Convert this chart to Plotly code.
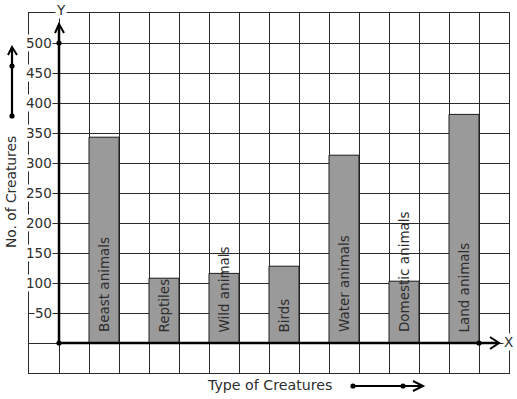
import plotly.graph_objects as go

# ---- data ----
categories = ["Beast animals", "Reptiles", "Wild animals", "Birds",
              "Water animals", "Domestic animals", "Land animals"]
values = [343, 108, 116, 128, 313, 103, 381]
y_ticks = [50, 100, 150, 200, 250, 300, 350, 400, 450, 500]
y_tick_labels = ["50", "100", "150", "200", "250", "300", "350", "400", "450", "500"]

# ---- layout geometry (pixels) ----
FIG_W, FIG_H = 517, 399
L, T, W, H = 29, 13, 480, 360


def px(x):
    return (x - L) / W


def py(y):
    return (T + H - y) / H


FONT = "DejaVu Sans"
TXT = "#2e2e2e"

bar_x = [1.5 + 2 * i for i in range(len(categories))]

fig = go.Figure()
fig.add_trace(go.Bar(
    x=bar_x, y=values, width=1,
    marker=dict(color="#9a9a9a", line=dict(color="#1a1a1a", width=1)),
    hoverinfo="skip", showlegend=False,
))

shapes = []


def seg(x0, y0, x1, y1, w=2.5, c="black"):
    shapes.append(dict(type="line", xref="paper", yref="paper",
                       x0=px(x0), y0=py(y0), x1=px(x1), y1=py(y1),
                       line=dict(color=c, width=w), layer="above"))


def path(pts, w=2):
    d = "M " + " L ".join(f"{px(a)},{py(b)}" for a, b in pts)
    shapes.append(dict(type="path", xref="paper", yref="paper", path=d,
                       line=dict(color="black", width=w), layer="above"))


def dot(x, y, r=2.6):
    shapes.append(dict(type="circle", xref="paper", yref="paper",
                       x0=px(x - r), x1=px(x + r), y0=py(y + r), y1=py(y - r),
                       fillcolor="black", line=dict(color="black", width=0),
                       layer="above"))


# Y axis with arrow
seg(59, 343, 59, 25)
path([(55, 33), (59, 24), (64, 33)])
dot(59, 43)
dot(59, 343)
# X axis with arrow
seg(59, 343, 498, 343)
path([(490, 337), (499, 343), (490, 349)])
dot(479, 343)
# left side arrow
seg(12, 116, 12, 48, w=2.2)
path([(8, 55), (12, 47), (17, 55)])
dot(12, 116)
dot(12, 66)
# bottom arrow
seg(353, 386, 422, 386, w=2.2)
path([(413, 381), (423, 386), (413, 391)])
dot(353, 386)
dot(403, 386)

annotations = []
# y tick labels with white background
for v, t in zip(y_ticks, y_tick_labels):
    annotations.append(dict(
        x=px(53), y=v, xref="paper", yref="y", text=t, showarrow=False,
        xanchor="right", yanchor="middle", bgcolor="white", borderpad=0,
        font=dict(family=FONT, size=13.5, color=TXT)))
# bar labels
for xc, c in zip(bar_x, categories):
    annotations.append(dict(
        x=xc, y=14, xref="x", yref="y", text=c, showarrow=False,
        textangle=-90, xanchor="center", yanchor="bottom",
        font=dict(family=FONT, size=13.5, color=TXT)))
# axis letters
annotations.append(dict(x=px(61), y=py(10), xref="paper", yref="paper", text="Y",
                        showarrow=False, bgcolor="white", borderpad=0,
                        xanchor="center", yanchor="middle",
                        font=dict(family=FONT, size=13.5, color=TXT)))
annotations.append(dict(x=px(508), y=py(342), xref="paper", yref="paper", text="X",
                        showarrow=False, bgcolor="white", borderpad=0,
                        xanchor="center", yanchor="middle",
                        font=dict(family=FONT, size=13.5, color=TXT)))
# axis titles
annotations.append(dict(x=px(11), y=py(192), xref="paper", yref="paper",
                        text="No. of Creatures", showarrow=False, textangle=-90,
                        xanchor="center", yanchor="middle",
                        font=dict(family=FONT, size=13.8, color=TXT)))
annotations.append(dict(x=px(269), y=py(385), xref="paper", yref="paper",
                        text="Type of Creatures", showarrow=False,
                        xanchor="center", yanchor="middle",
                        font=dict(family=FONT, size=14.2, color=TXT)))

fig.update_layout(
    width=FIG_W, height=FIG_H,
    margin=dict(l=L, r=FIG_W - L - W, t=T, b=FIG_H - T - H, pad=0),
    paper_bgcolor="white", plot_bgcolor="white",
    showlegend=False,
    xaxis=dict(range=[-1, 15], tick0=0, dtick=1, showgrid=True,
               gridcolor="#2a2a2a", gridwidth=1, zeroline=False,
               showticklabels=False, ticks="", showline=True, mirror=True,
               linecolor="#2a2a2a", linewidth=1, fixedrange=True),
    yaxis=dict(range=[-50, 550], tick0=0, dtick=50, showgrid=True,
               gridcolor="#2a2a2a", gridwidth=1, zeroline=False,
               showticklabels=False, ticks="", showline=True, mirror=True,
               linecolor="#2a2a2a", linewidth=1, fixedrange=True),
    shapes=shapes,
    annotations=annotations,
)

fig.write_html("out.html", config={"displayModeBar": False},
               post_script="document.body.style.margin='0';"
                           "document.body.style.overflow='hidden';")
